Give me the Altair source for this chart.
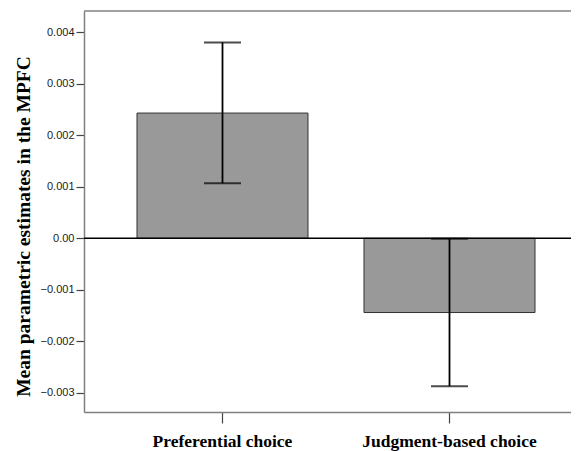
import altair as alt
import pandas as pd

categories = ["Preferential choice", "Judgment-based choice"]
means = [0.00243, -0.00144]
err_low = [0.00107, -0.00287]
err_high = [0.00380, -0.00001]
y_ticks = [-0.003, -0.002, -0.001, 0.0, 0.001, 0.002, 0.003, 0.004]
y_domain = [-0.00337, 0.00441]

df = pd.DataFrame({"cat": categories, "mean": means, "lo": err_low, "hi": err_high})

xscale = alt.Scale(domain=categories, paddingInner=0.2467, paddingOuter=0.196, align=0.5955)
yscale = alt.Scale(domain=y_domain, nice=False, zero=False)

x_enc = alt.X("cat:N", scale=xscale, sort=categories, title=None,
              axis=alt.Axis(labelAngle=0, labelFont="Liberation Serif", labelFontWeight="bold",
                            labelFontSize=17.5, labelColor="#000", labelPadding=9,
                            tickSize=11, tickColor="#444", tickWidth=1.2,
                            domainColor="#808080", domainWidth=1.5))

base = alt.Chart(df)

bars = base.mark_bar(fill="#999999", stroke="#333333", strokeWidth=1).encode(
    x=x_enc,
    y=alt.Y("mean:Q", scale=yscale,
            title="Mean parametric estimates in the MPFC",
            axis=alt.Axis(values=y_ticks, grid=False,
                          labelExpr="datum.value == 0 ? '0.00' : format(datum.value, '.3f')",
                          labelFont="Liberation Sans", labelFontSize=11, labelColor="#222",
                          tickSize=8, tickColor="#444", tickWidth=1.2,
                          domainColor="#808080", domainWidth=1.5,
                          titleFont="Liberation Serif", titleFontWeight="bold",
                          titleFontSize=19.5, titleColor="#000", titlePadding=7, titleY=215)),
)

rules = base.mark_rule(color="black", strokeWidth=1.8).encode(
    x=alt.X("cat:N", scale=xscale, sort=categories),
    y=alt.Y("lo:Q", scale=yscale),
    y2="hi:Q",
)

cap_hi = base.mark_tick(color="black", size=37, thickness=2).encode(
    x=alt.X("cat:N", scale=xscale, sort=categories),
    y=alt.Y("hi:Q", scale=yscale),
)
cap_lo = base.mark_tick(color="black", size=37, thickness=2).encode(
    x=alt.X("cat:N", scale=xscale, sort=categories),
    y=alt.Y("lo:Q", scale=yscale),
)

zero = alt.Chart(pd.DataFrame({"v": [0.0]})).mark_rule(color="black", strokeWidth=1.6).encode(
    y=alt.Y("v:Q", scale=yscale)
)
top = alt.Chart(pd.DataFrame({"v": [y_domain[1]]})).mark_rule(color="#808080", strokeWidth=1.5).encode(
    y=alt.Y("v:Q", scale=yscale)
)

chart = alt.layer(bars, zero, rules, cap_hi, cap_lo, top).properties(
    width=487, height=401,
    autosize=alt.AutoSizeParams(type="none"),
    padding={"left": 76, "top": 3, "right": 0, "bottom": 39},
    background="white",
).configure_view(stroke=None)

chart.save("out.html", embed_options={"renderer": "svg", "actions": False})
